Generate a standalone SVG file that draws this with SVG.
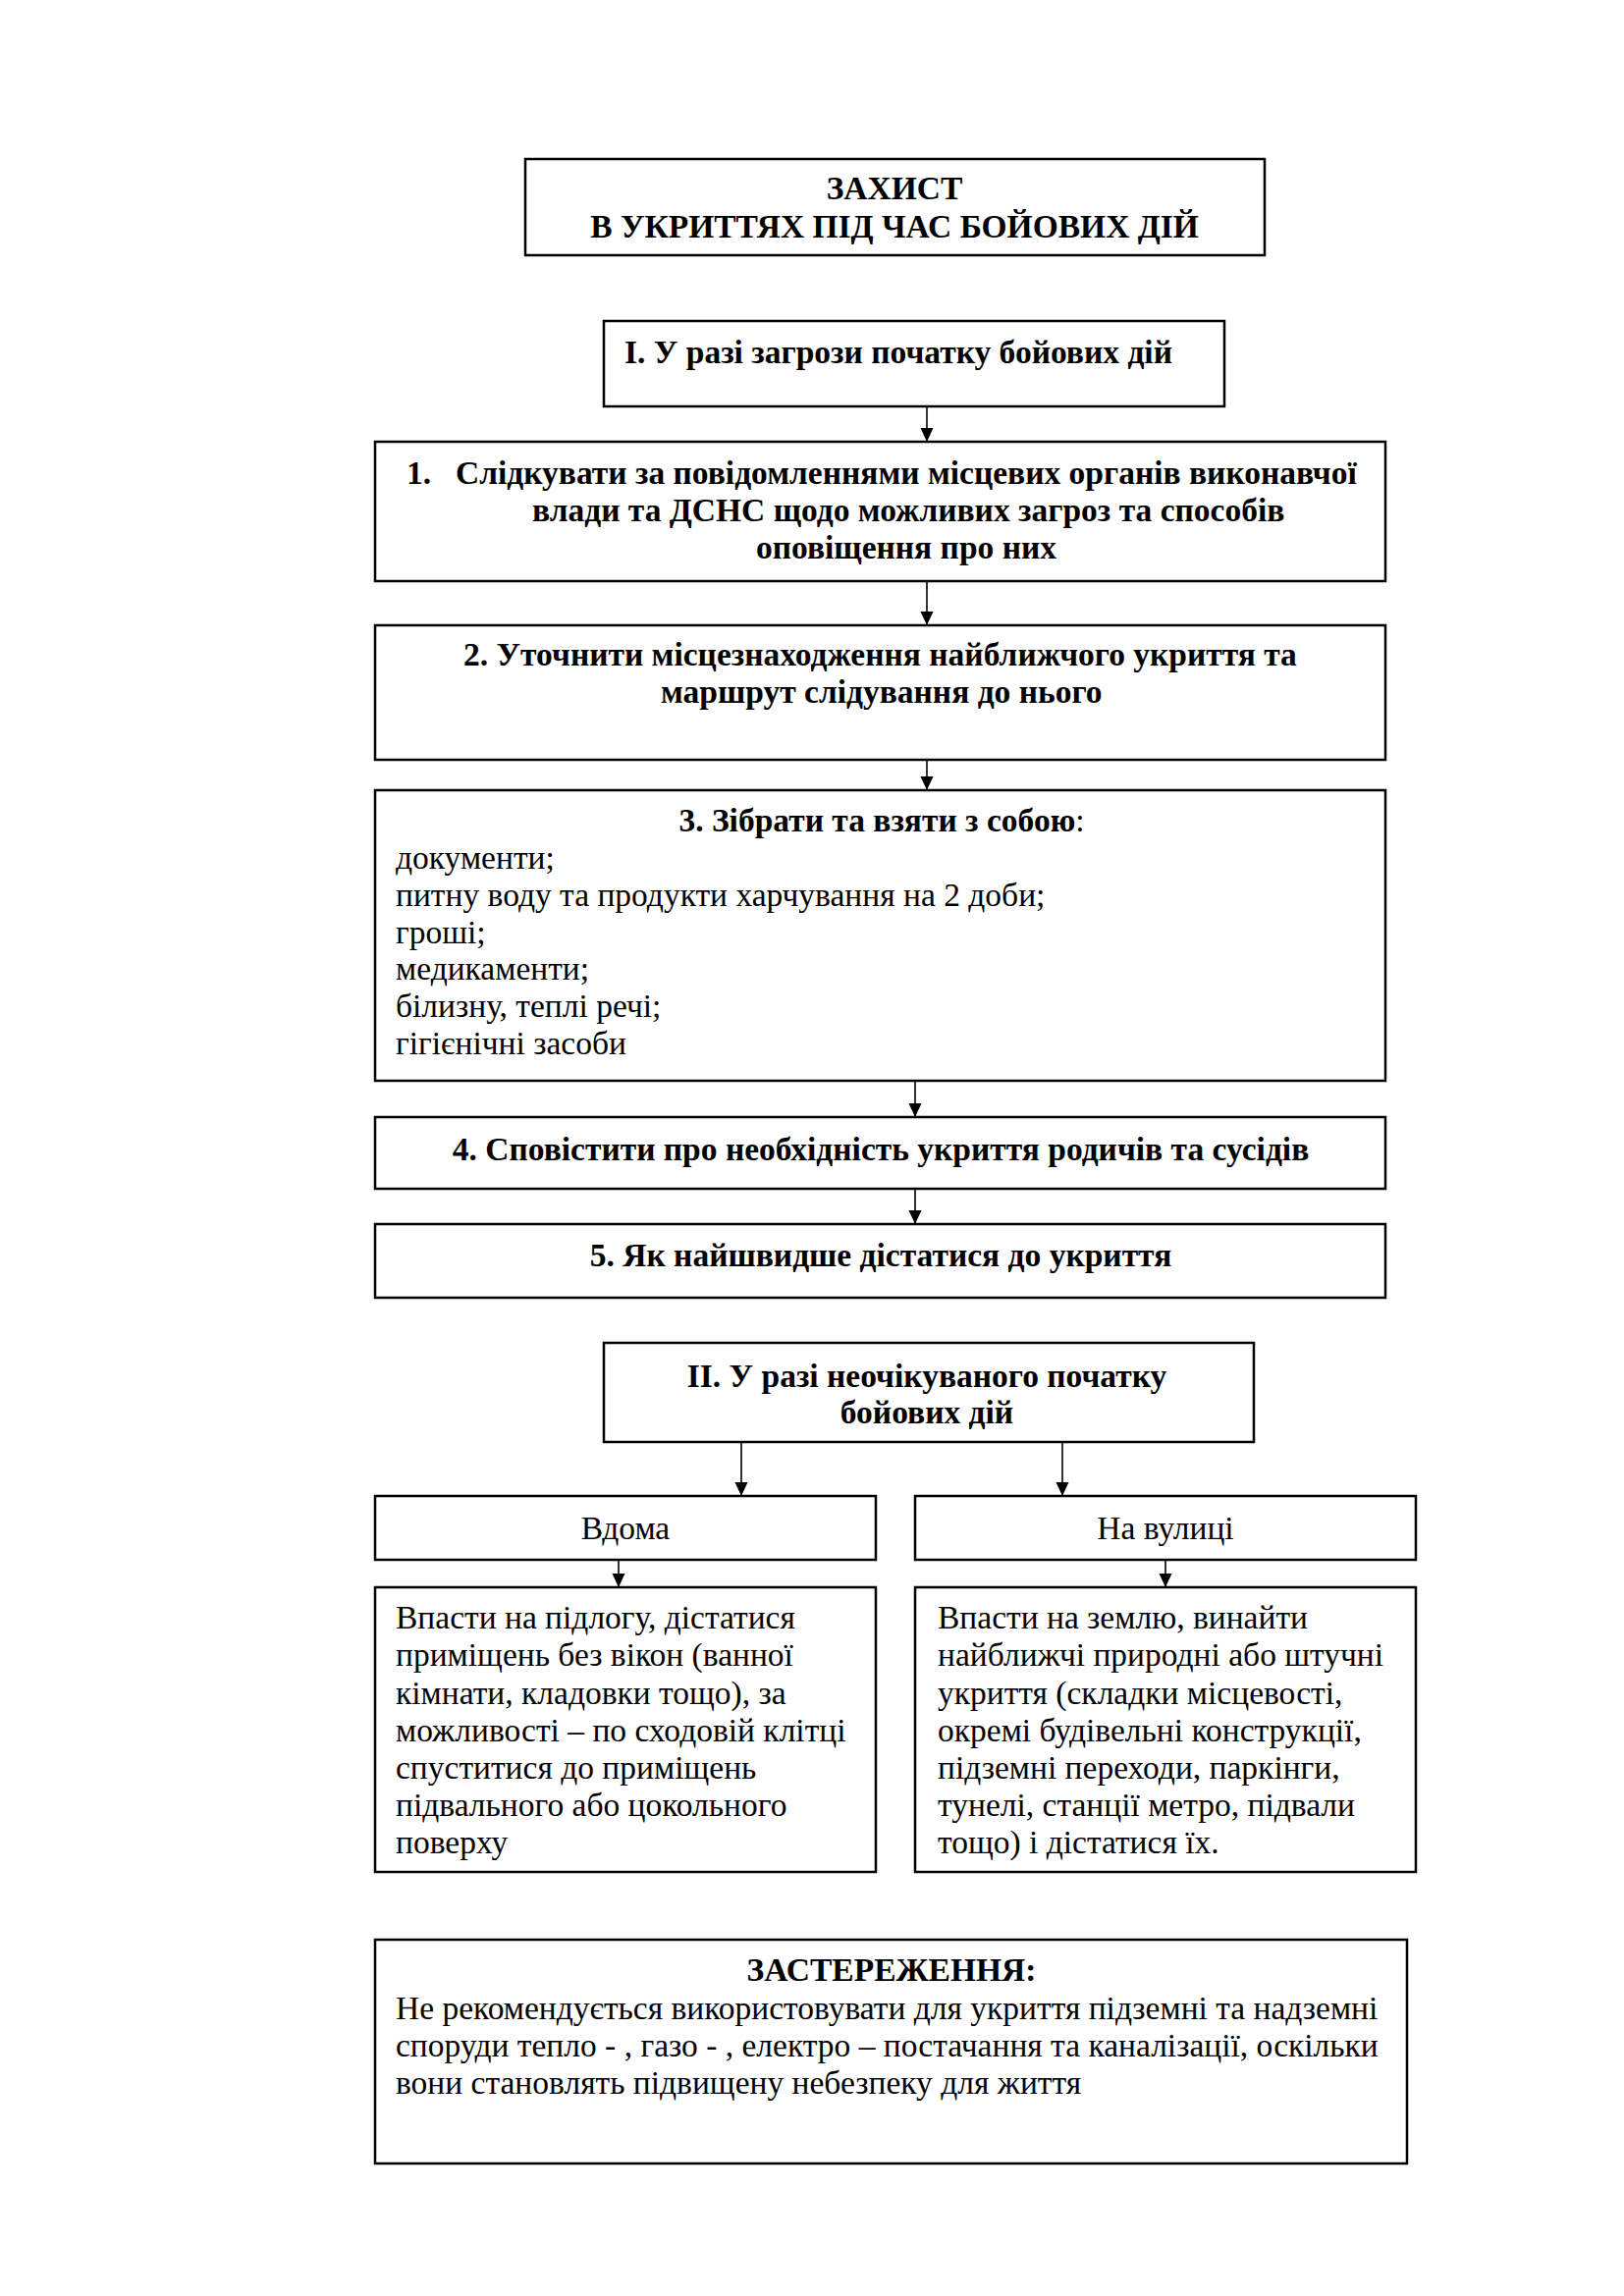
<svg xmlns="http://www.w3.org/2000/svg" width="1654" height="2339" viewBox="0 0 1654 2339">
<style>
.box{fill:#fff;stroke:#000;stroke-width:2.5}
.t{font-family:"Liberation Serif","Times New Roman",serif;font-size:33.5px;fill:#000}
.b{font-weight:bold}
.c{text-anchor:middle}
.con{stroke:#000;stroke-width:1.6;fill:none;marker-end:url(#ah)}
</style>
<defs>
<marker id="ah" markerUnits="userSpaceOnUse" markerWidth="14" markerHeight="14" refX="14" refY="7" orient="auto">
<path d="M0,0.5 L14,7 L0,13.5 Z" fill="#000"/>
</marker>
</defs>
<rect width="1654" height="2339" fill="#fff"/>
<g id="title">
<rect class="box" x="535" y="162" width="753" height="98"/>
<text class="t b c" x="911" y="203">ЗАХИСТ</text>
<text class="t b c" x="911" y="242">В УКРИТТЯХ ПІД ЧАС БОЙОВИХ ДІЙ</text>
</g>
<g id="section1">
<rect class="box" x="615" y="327" width="632" height="87"/>
<text class="t b" x="636" y="370">І. У разі загрози початку бойових дій</text>
</g>
<g id="step1">
<rect class="box" x="382" y="450" width="1029" height="142"/>
<text class="t b" x="414" y="493">1.</text>
<text class="t b" x="464" y="493">Слідкувати за повідомленнями місцевих органів виконавчої</text>
<text class="t b" x="542" y="531">влади та ДСНС щодо можливих загроз та способів</text>
<text class="t b" x="770" y="569">оповіщення про них</text>
</g>
<g id="step2">
<rect class="box" x="382" y="637" width="1029" height="137"/>
<text class="t b" x="472" y="678">2. Уточнити місцезнаходження найближчого укриття та</text>
<text class="t b" x="673" y="716">маршрут слідування до нього</text>
</g>
<g id="step3">
<rect class="box" x="382" y="805" width="1029" height="296"/>
<text class="t c" x="898" y="847"><tspan class="b">3. Зібрати та взяти з собою</tspan>:</text>
<text class="t" x="403" y="885">документи;</text>
<text class="t" x="403" y="923">питну воду та продукти харчування на 2 доби;</text>
<text class="t" x="403" y="961">гроші;</text>
<text class="t" x="403" y="998">медикаменти;</text>
<text class="t" x="403" y="1036">білизну, теплі речі;</text>
<text class="t" x="403" y="1074">гігієнічні засоби</text>
</g>
<g id="step4">
<rect class="box" x="382" y="1138" width="1029" height="73"/>
<text class="t b c" x="897" y="1182">4. Сповістити про необхідність укриття родичів та сусідів</text>
</g>
<g id="step5">
<rect class="box" x="382" y="1247" width="1029" height="75"/>
<text class="t b c" x="897" y="1290">5. Як найшвидше дістатися до укриття</text>
</g>
<g id="section2">
<rect class="box" x="615" y="1368" width="662" height="101"/>
<text class="t b c" x="944" y="1413">ІІ. У разі неочікуваного початку</text>
<text class="t b c" x="944" y="1450">бойових дій</text>
</g>
<g id="home">
<rect class="box" x="382" y="1524" width="510" height="65"/>
<text class="t c" x="637" y="1568">Вдома</text>
</g>
<g id="street">
<rect class="box" x="932" y="1524" width="510" height="65"/>
<text class="t c" x="1187" y="1568">На вулиці</text>
</g>
<g id="home-actions">
<rect class="box" x="382" y="1617" width="510" height="290"/>
<text class="t" x="403" y="1659">Впасти на підлогу, дістатися</text>
<text class="t" x="403" y="1697">приміщень без вікон (ванної</text>
<text class="t" x="403" y="1736">кімнати, кладовки тощо), за</text>
<text class="t" x="403" y="1774">можливості – по сходовій клітці</text>
<text class="t" x="403" y="1812">спуститися до приміщень</text>
<text class="t" x="403" y="1850">підвального або цокольного</text>
<text class="t" x="403" y="1888">поверху</text>
</g>
<g id="street-actions">
<rect class="box" x="932" y="1617" width="510" height="290"/>
<text class="t" x="955" y="1659">Впасти на землю, винайти</text>
<text class="t" x="955" y="1697">найближчі природні або штучні</text>
<text class="t" x="955" y="1736">укриття (складки місцевості,</text>
<text class="t" x="955" y="1774">окремі будівельні конструкції,</text>
<text class="t" x="955" y="1812">підземні переходи, паркінги,</text>
<text class="t" x="955" y="1850">тунелі, станції метро, підвали</text>
<text class="t" x="955" y="1888">тощо) і дістатися їх.</text>
</g>
<g id="warning">
<rect class="box" x="382" y="1976" width="1051" height="228"/>
<text class="t b c" x="908" y="2018">ЗАСТЕРЕЖЕННЯ:</text>
<text class="t" x="403" y="2057">Не рекомендується використовувати для укриття підземні та надземні</text>
<text class="t" x="403" y="2095">споруди тепло - , газо - , електро – постачання та каналізації, оскільки</text>
<text class="t" x="403" y="2133">вони становлять підвищену небезпеку для життя</text>
</g>
<g id="connectors">
<line class="con" x1="944" y1="414" x2="944" y2="450"/>
<line class="con" x1="944" y1="592" x2="944" y2="637"/>
<line class="con" x1="944" y1="774" x2="944" y2="805"/>
<line class="con" x1="932" y1="1101" x2="932" y2="1138"/>
<line class="con" x1="932" y1="1211" x2="932" y2="1247"/>
<line class="con" x1="755" y1="1469" x2="755" y2="1524"/>
<line class="con" x1="1082" y1="1469" x2="1082" y2="1524"/>
<line class="con" x1="630" y1="1589" x2="630" y2="1617"/>
<line class="con" x1="1187" y1="1589" x2="1187" y2="1617"/>
</g>
</svg>
